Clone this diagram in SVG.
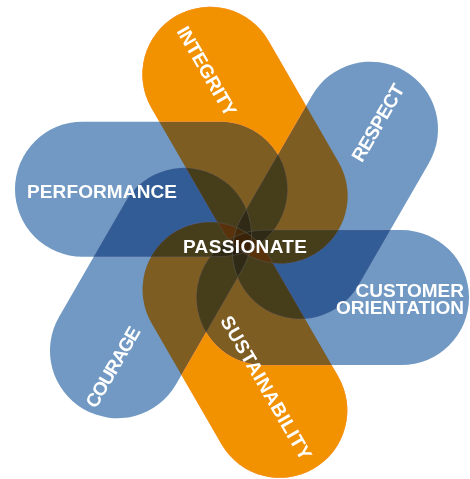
<svg xmlns="http://www.w3.org/2000/svg" xmlns:xlink="http://www.w3.org/1999/xlink" width="470" height="479" viewBox="0 0 470 479">
  <style>
    .blue { fill: #7199c3; mix-blend-mode: multiply; }
    .orange { fill: #ff982d; mix-blend-mode: multiply; }
    .orange-pure { fill: #f39200; }
    .orange-tint { fill: #d06a20; opacity: 0.13; }
    .seam { fill: none; stroke: #504c3e; stroke-width: 0.8; mix-blend-mode: lighten; }
    .label { font-family: "Liberation Sans", Arial, sans-serif; font-weight: 700; font-size: 19px; fill: #ffffff; }
  </style>
  <defs>
    <rect id="pill-performance" x="15" y="121.7" width="272.5" height="135" rx="67.5"/>
    <rect id="pill-integrity" x="12" y="121.7" width="275.5" height="135" rx="67.5" transform="translate(2.2,-1.25) rotate(60 242 243.4)"/>
    <rect id="pill-respect" x="11.3" y="121.7" width="276.2" height="135" rx="67.5" transform="rotate(120 242 243.4)"/>
    <rect id="pill-customer" x="15" y="121.7" width="272.5" height="135" rx="67.5" transform="rotate(180 242 243.4)"/>
    <rect id="pill-sustainability" x="13" y="121.7" width="274.5" height="135" rx="67.5" transform="translate(4,0) rotate(240 242 243.4)"/>
    <rect id="pill-courage" x="19.3" y="121.7" width="268.2" height="135" rx="67.5" transform="rotate(300 242 243.4)"/>
    <mask id="noBlue" maskUnits="userSpaceOnUse" x="0" y="0" width="470" height="479">
      <rect x="0" y="0" width="470" height="479" fill="#ffffff"/>
      <use href="#pill-performance" fill="#000000"/>
      <use href="#pill-respect" fill="#000000"/>
      <use href="#pill-customer" fill="#000000"/>
      <use href="#pill-courage" fill="#000000"/>
    </mask>
    <mask id="inBlue" maskUnits="userSpaceOnUse" x="0" y="0" width="470" height="479">
      <rect x="0" y="0" width="470" height="479" fill="#000000"/>
      <use href="#pill-performance" fill="#ffffff"/>
      <use href="#pill-respect" fill="#ffffff"/>
      <use href="#pill-customer" fill="#ffffff"/>
      <use href="#pill-courage" fill="#ffffff"/>
    </mask>
  </defs>
  <rect x="0" y="0" width="470" height="479" fill="#ffffff"/>
  <g id="nodes">
    <g id="node-performance"><use href="#pill-performance" class="blue"/></g>
    <g id="node-respect"><use href="#pill-respect" class="blue"/></g>
    <g id="node-customer-orientation"><use href="#pill-customer" class="blue"/></g>
    <g id="node-courage"><use href="#pill-courage" class="blue"/></g>
    <g id="node-integrity"><use href="#pill-integrity" class="orange"/><use href="#pill-integrity" class="orange-pure" mask="url(#noBlue)"/></g>
    <g id="node-sustainability"><use href="#pill-sustainability" class="orange"/><use href="#pill-sustainability" class="orange-pure" mask="url(#noBlue)"/></g>
    <g id="orange-tints">
      <g mask="url(#inBlue)"><use href="#pill-integrity" class="orange-tint"/></g>
      <g mask="url(#inBlue)"><use href="#pill-sustainability" class="orange-tint"/></g>
    </g>
  </g>
  <g id="seams">
    <use href="#pill-performance" class="seam"/>
    <use href="#pill-integrity" class="seam"/>
    <use href="#pill-respect" class="seam"/>
    <use href="#pill-customer" class="seam"/>
    <use href="#pill-sustainability" class="seam"/>
    <use href="#pill-courage" class="seam"/>
  </g>
  <g id="labels">
    <text id="label-performance" class="label" x="102" y="198.3" text-anchor="middle" textLength="150" lengthAdjust="spacing">PERFORMANCE</text>
    <text id="label-integrity" class="label" text-anchor="middle" transform="translate(201.2,74.5) rotate(60)" textLength="100" lengthAdjust="spacing">INTEGRITY</text>
    <text id="label-respect" class="label" text-anchor="middle" transform="translate(383.6,126) rotate(-60)" textLength="86" lengthAdjust="spacing">RESPECT</text>
    <text id="label-customer-orientation" class="label" text-anchor="end"><tspan x="464" y="296.7">CUSTOMER</tspan><tspan x="464" y="314.3">ORIENTATION</tspan></text>
    <text id="label-sustainability" class="label" text-anchor="middle" transform="translate(260.6,391) rotate(60)" textLength="163" lengthAdjust="spacing">SUSTAINABILITY</text>
    <text id="label-courage" class="label" text-anchor="middle" transform="translate(118.6,370.2) rotate(-60)" textLength="90" lengthAdjust="spacing">COURAGE</text>
    <text id="label-passionate" class="label" x="245" y="252.5" text-anchor="middle" textLength="124" lengthAdjust="spacing">PASSIONATE</text>
  </g>
</svg>
